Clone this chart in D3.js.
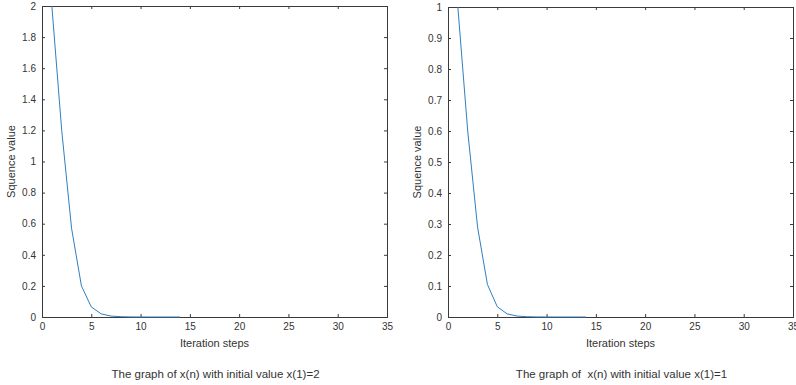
<!DOCTYPE html>
<html>
<head>
<meta charset="utf-8">
<script src="https://cdn.jsdelivr.net/npm/d3@7"></script>
<style>
  body { margin: 0; background: #fff; }
  svg { font-family: "Liberation Sans", Arial, sans-serif; }
</style>
</head>
<body>
<div id="chart"></div>
<script>
  // iteration steps
  var steps = [1, 2, 3, 4, 5, 6, 7, 8, 9, 10, 11, 12, 13, 14]

  // x(n) with x(1)=2
  var seriesA = [2, 1.2, 0.57, 0.2, 0.065, 0.02, 0.006, 0.002, 0.0006, 0.0002, 0.00006, 0.00002, 0.000006, 0.000002]
  // x(n) with x(1)=1
  var seriesB = [1, 0.6, 0.29, 0.105, 0.033, 0.01, 0.003, 0.001, 0.0003, 0.0001, 0.00003, 0.00001, 0.000003, 0.000001]

  var xTicks = [0, 5, 10, 15, 20, 25, 30, 35]
  var yTicksA = [0, 0.2, 0.4, 0.6, 0.8, 1, 1.2, 1.4, 1.6, 1.8, 2]
  var yTicksB = [0, 0.1, 0.2, 0.3, 0.4, 0.5, 0.6, 0.7, 0.8, 0.9, 1]

  var titles = ["The graph of x(n) with initial value x(1)=2",
                "The graph of  x(n) with initial value x(1)=1"]

  var svg = d3.select("#chart")
    .append("svg")
    .attr("width", 796)
    .attr("height", 385)

  var axisColor = "#3a3a3a"

  function panel(left, top, right, bottom, values, yMax, yTicks, title) {
    var x = d3.scaleLinear().domain([0, 35]).range([left, right])
    var y = d3.scaleLinear().domain([0, yMax]).range([bottom, top])

    var g = svg.append("g")

    // box frame
    g.append("rect")
      .attr("x", left).attr("y", top)
      .attr("width", right - left).attr("height", bottom - top)
      .attr("fill", "none")
      .attr("stroke", axisColor)
      .attr("stroke-width", 1)
      .attr("shape-rendering", "crispEdges")

    // axes with inward ticks
    var bottomAxis = g.append("g")
      .attr("transform", "translate(0," + bottom + ")")
      .call(d3.axisBottom(x).tickValues(xTicks).tickSizeInner(-3).tickSizeOuter(0).tickPadding(6))
    var topAxis = g.append("g")
      .attr("transform", "translate(0," + top + ")")
      .call(d3.axisTop(x).tickValues(xTicks).tickSizeInner(-3).tickSizeOuter(0).tickFormat(""))
    var leftAxis = g.append("g")
      .attr("transform", "translate(" + left + ",0)")
      .call(d3.axisLeft(y).tickValues(yTicks).tickSizeInner(-3).tickSizeOuter(0).tickPadding(6).tickFormat(d3.format("~g")))
    var rightAxis = g.append("g")
      .attr("transform", "translate(" + right + ",0)")
      .call(d3.axisRight(y).tickValues(yTicks).tickSizeInner(-3).tickSizeOuter(0).tickFormat(""))

    ;[bottomAxis, topAxis, leftAxis, rightAxis].forEach(function (a) {
      a.select(".domain").attr("stroke", axisColor)
      a.selectAll(".tick line").attr("stroke", axisColor)
      a.selectAll("text")
        .attr("fill", "#333")
        .style("font-size", "10px")
        .style("font-family", "Liberation Sans, Arial, sans-serif")
    })

    // the sequence
    var line = d3.line()
      .x(function (d, i) { return x(steps[i]) })
      .y(function (d) { return y(d) })

    g.append("path")
      .datum(values)
      .attr("fill", "none")
      .attr("stroke", "#2f7fc1")
      .attr("stroke-width", 1)
      .attr("d", line)

    // labels
    var cx = (left + right) / 2
    g.append("text")
      .attr("x", cx).attr("y", 347)
      .attr("text-anchor", "middle")
      .attr("fill", "#333")
      .style("font-size", "11px")
      .text("Iteration steps")

    g.append("text")
      .attr("transform", "translate(" + (left - 27) + "," + ((top + bottom) / 2) + ") rotate(-90)")
      .attr("text-anchor", "middle")
      .attr("fill", "#333")
      .style("font-size", "11px")
      .text("Squence value")

    g.append("text")
      .attr("x", cx + 1).attr("y", 378)
      .attr("text-anchor", "middle")
      .attr("fill", "#333")
      .style("font-size", "11.5px")
      .style("white-space", "pre")
      .text(title)
  }

  panel(42, 6, 387, 317, seriesA, 2, yTicksA, titles[0])
  panel(448, 7, 793, 317, seriesB, 1, yTicksB, titles[1])
</script>
</body>
</html>
